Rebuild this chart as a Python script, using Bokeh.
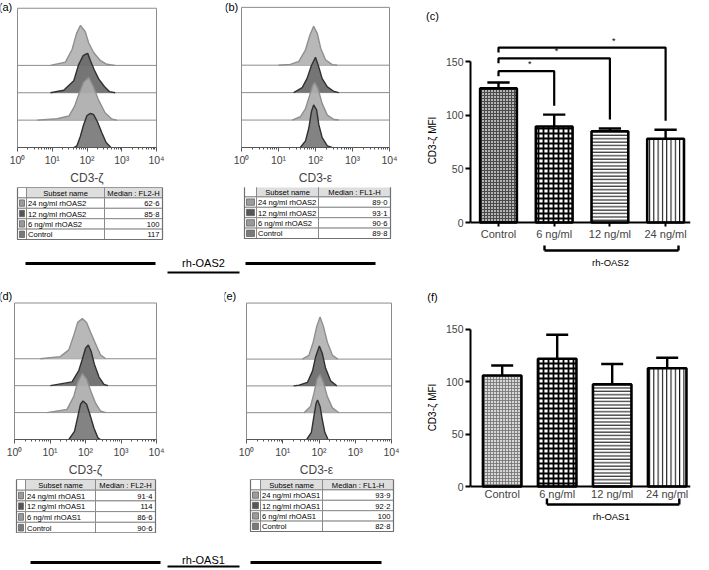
import numpy as np
from bokeh.plotting import figure
from bokeh.layouts import row, column
from bokeh.models import Range1d, FixedTicker, ColumnDataSource
from bokeh.embed import file_html
from bokeh.resources import INLINE
from bokeh.core.properties import value

FONT = "Liberation Sans"

# ---------------- data ----------------
# flow histograms (lanes top -> bottom): 24 ng/ml, 12 ng/ml, 6 ng/ml, Control
# x = log10 fluorescence, h = relative event count (lane units)
a_x = [[0.95, 1.38, 1.57, 1.70, 1.81, 1.95, 2.05, 2.19, 2.38, 2.57, 2.81],
       [0.95, 1.33, 1.62, 1.76, 1.89, 1.95, 2.02, 2.10, 2.21, 2.34, 2.50, 2.65, 2.81],
       [0.57, 1.14, 1.48, 1.64, 1.77, 1.90, 2.05, 2.19, 2.33, 2.52, 2.71, 2.86],
       [1.62, 1.71, 1.81, 1.90, 2.00, 2.10, 2.19, 2.30, 2.43, 2.55, 2.69]]
a_h = [[0, 0.12, 0.58, 1.17, 1.46, 1.23, 0.82, 0.47, 0.18, 0.04, 0],
       [0, 0.09, 0.44, 1.03, 1.36, 1.40, 1.44, 1.17, 0.83, 0.50, 0.23, 0.04, 0],
       [0, 0.05, 0.15, 0.50, 0.96, 1.38, 1.56, 1.20, 0.74, 0.27, 0.04, 0],
       [0, 0.06, 0.41, 0.82, 1.17, 1.25, 1.20, 0.94, 0.53, 0.18, 0]]
b_x = [[1.00, 1.32, 1.55, 1.73, 1.85, 1.95, 2.05, 2.14, 2.27, 2.45, 2.59],
       [1.41, 1.64, 1.77, 1.89, 2.00, 2.09, 2.18, 2.32, 2.50, 2.63],
       [1.37, 1.59, 1.73, 1.84, 1.92, 1.98, 2.07, 2.18, 2.32, 2.50, 2.63],
       [1.59, 1.73, 1.82, 1.89, 1.95, 2.03, 2.09, 2.18, 2.32, 2.45]]
b_h = [[0, 0.03, 0.14, 0.56, 1.10, 1.42, 1.15, 0.62, 0.20, 0.02, 0],
       [0, 0.18, 0.51, 0.99, 1.29, 0.93, 0.51, 0.21, 0.04, 0],
       [0, 0.12, 0.42, 0.89, 1.25, 1.37, 1.13, 0.60, 0.18, 0.02, 0],
       [0, 0.24, 0.71, 1.31, 1.55, 1.37, 0.83, 0.36, 0.06, 0]]
d_x = [[0.73, 1.29, 1.53, 1.67, 1.78, 1.91, 2.03, 2.14, 2.28, 2.42, 2.57],
       [1.01, 1.62, 1.81, 1.91, 2.00, 2.08, 2.16, 2.25, 2.38, 2.52, 2.63],
       [0.92, 1.48, 1.67, 1.78, 1.91, 2.03, 2.14, 2.28, 2.42, 2.57],
       [1.53, 1.69, 1.78, 1.86, 1.93, 2.03, 2.12, 2.24, 2.35, 2.42]]
d_h = [[0, 0.08, 0.33, 0.87, 1.35, 1.49, 1.35, 0.99, 0.57, 0.15, 0],
       [0, 0.14, 0.56, 0.98, 1.39, 1.51, 1.27, 0.80, 0.32, 0.05, 0],
       [0, 0.12, 0.60, 1.13, 1.45, 1.25, 0.83, 0.36, 0.06, 0],
       [0, 0.30, 0.83, 1.31, 1.43, 1.31, 0.95, 0.42, 0.06, 0]]
e_x = [[1.54, 1.72, 1.84, 1.94, 2.03, 2.12, 2.23, 2.37, 2.52],
       [1.30, 1.45, 1.68, 1.82, 1.91, 2.01, 2.09, 2.18, 2.32, 2.49],
       [1.59, 1.77, 1.86, 1.95, 2.03, 2.12, 2.23, 2.37, 2.55],
       [1.66, 1.79, 1.86, 1.92, 1.96, 2.03, 2.09, 2.16, 2.25]]
e_h = [[0, 0.14, 0.63, 1.23, 1.57, 1.23, 0.63, 0.14, 0],
       [0, 0.03, 0.13, 0.55, 1.10, 1.49, 1.22, 0.67, 0.19, 0],
       [0, 0.24, 0.72, 1.27, 1.42, 1.14, 0.60, 0.18, 0],
       [0, 0.27, 0.87, 1.35, 1.47, 1.23, 0.75, 0.27, 0]]

oas2_names = ["24 ng/ml rhOAS2", "12 ng/ml rhOAS2", "6 ng/ml rhOAS2", "Control"]
oas1_names = ["24 ng/ml rhOAS1", "12 ng/ml rhOAS1", "6 ng/ml rhOAS1", "Control"]
a_median = ["62·6", "85·8", "100", "117"]
b_median = ["89·0", "93·1", "90·6", "89·8"]
d_median = ["91·4", "114", "86·6", "90·6"]
e_median = ["93·9", "92·2", "100", "82·8"]

bar_cats = ["Control", "6 ng/ml", "12 ng/ml", "24 ng/ml"]
c_mean = [125, 89.5, 85, 78]
c_sd = [5.5, 11, 2.6, 8.5]
f_mean = [106, 122, 97.5, 113]
f_sd = [9.6, 23, 19.5, 10]
sig_target = [1, 2, 3]          # compared with Control (index 0)
sig_text = ["*", "*", "*"]
mfi_label = "CD3-ζ MFI"

# ---------------- styles ----------------
LANE_FILL = ["#b3b3b3", "#6b6b6b", "#adadad", "#7a7a7a"]
LANE_LINE = ["#8f8f8f", "#303030", "#8f8f8f", "#303030"]
SWATCH = ["#9c9c9c", "#555555", "#9a9a9a", "#7a7a7a"]
SUP = "⁰¹²³⁴"


def bare(ox, oy, w, h, flip=True):
    yr = Range1d(oy + h, oy) if flip else Range1d(-(oy + h), -oy)
    p = figure(width=w, height=h, x_range=Range1d(ox, ox + w), y_range=yr,
               output_backend="svg", toolbar_location=None,
               x_axis_location=None, y_axis_location=None, min_border=0)
    p.grid.visible = False
    p.outline_line_color = None
    return p


def hist_panel(ox, oy, w, h, box, fx, lane_px, xs, hs, xlabel, letter, lpos):
    bl, br, bt, bb = box          # the drawn histogram box (page px)
    fl, fr = fx                   # bokeh frame horizontal extent (page px)
    sx = (br - bl) / 4.0
    sy = lane_px
    p = figure(width=w, height=h,
               x_range=Range1d((fl - bl) / sx, 4 + (fr - br) / sx),
               y_range=Range1d(0, (bb - oy) / sy),
               min_border_left=fl - ox, min_border_right=ox + w - fr,
               min_border_top=0, min_border_bottom=oy + h - bb,
               output_backend="svg", toolbar_location=None, y_axis_location=None)
    p.grid.visible = False
    p.outline_line_color = None
    boxtop = (bb - bt) / sy
    p.quad(left=[0], right=[4], bottom=[0], top=[boxtop], fill_color=None,
           line_color="#8c8c8c", line_width=1)
    for i in range(4):
        base = 3 - i
        p.segment(x0=[0], y0=[base], x1=[4], y1=[base], line_color="#8c8c8c", line_width=1)
        top = [base + v for v in hs[i]]
        p.varea(x=xs[i], y1=[base] * len(xs[i]), y2=top, fill_color=LANE_FILL[i], fill_alpha=0.93)
        p.line(x=xs[i], y=top, line_color=LANE_LINE[i], line_width=1.4)
    ax = p.xaxis[0]
    ax.bounds = (0, 4)
    ax.ticker = FixedTicker(ticks=[0, 1, 2, 3, 4],
                            minor_ticks=[float(d + np.log10(k)) for d in range(4) for k in range(2, 10)])
    ax.major_label_overrides = {i: "10" + SUP[i] for i in range(5)}
    ax.major_label_text_font = FONT
    ax.major_label_text_font_size = "10.5px"
    ax.major_label_standoff = 2
    ax.major_tick_in = 0
    ax.major_tick_out = 4
    ax.minor_tick_in = 0
    ax.minor_tick_out = 2
    ax.axis_line_color = "#555555"
    ax.major_tick_line_color = "#555555"
    ax.minor_tick_line_color = "#555555"
    ax.axis_label = xlabel
    ax.axis_label_text_font = FONT
    ax.axis_label_text_font_style = "normal"
    ax.axis_label_text_font_size = "12px"
    ax.axis_label_standoff = 2
    p.text(x=[(lpos[0] - bl) / sx], y=[(bb - lpos[1]) / sy], text=[letter],
           text_align="center", text_baseline="middle",
           text_font=value(FONT), text_font_size="11px")
    return p


def table_panel(ox, oy, w, h, edges, ty0, rh, med_head, names, medians):
    p = bare(ox, oy, w, h)
    x0, x1, x2, x3 = edges
    p.quad(left=[x0, x1, x2], right=[x1, x2, x3], top=[ty0] * 3, bottom=[ty0 + rh] * 3,
           fill_color=["white", "#dedede", "#dedede"], line_color="#8a8a8a", line_width=1)
    rows_top = [ty0 + rh * (r + 1) for r in range(len(names))]
    rows_bot = [t + rh for t in rows_top]
    for (l, r) in [(x0, x1), (x1, x2), (x2, x3)]:
        p.quad(left=[l] * len(names), right=[r] * len(names), top=rows_top, bottom=rows_bot,
               fill_color="white", line_color="#8a8a8a", line_width=1)
    p.quad(left=[x0 + 2] * len(names), right=[x1 - 2] * len(names),
           top=[t + 2 for t in rows_top], bottom=[b - 2 for b in rows_bot],
           fill_color=SWATCH, line_color="#666666", line_width=0.8)
    p.quad(left=[x0], right=[x3], top=[ty0], bottom=[rows_bot[-1]], fill_color=None,
           line_color="#707070", line_width=1.2)
    tf = dict(text_font=value(FONT), text_font_size="7.6px", text_baseline="middle")
    p.text(x=[(x1 + x2) / 2, (x2 + x3) / 2], y=[ty0 + rh / 2 + 0.5] * 2,
           text=["Subset name", med_head], text_align="center", **tf)
    mids = [t + rh / 2 + 0.5 for t in rows_top]
    p.text(x=[x1 + 1.5] * len(names), y=mids, text=names, text_align="left", **tf)
    p.text(x=[x3 - 3] * len(names), y=mids, text=medians, text_align="right", **tf)
    return p


def sep_panel(ox, oy, w, h, label, line_y, segs, text_xy, ul):
    p = bare(ox, oy, w, h)
    p.segment(x0=[s[0] for s in segs], y0=[line_y] * len(segs), x1=[s[1] for s in segs],
              y1=[line_y] * len(segs), line_color="black", line_width=2.8)
    p.segment(x0=[ul[0]], y0=[ul[2]], x1=[ul[1]], y1=[ul[2]], line_color="black", line_width=1.8)
    p.text(x=[text_xy[0]], y=[text_xy[1]], text=[label], text_align="center", text_baseline="middle",
           text_font=value(FONT), text_font_size="11px")
    return p


def bar_panel(ox, oy, w, h, frame, x0px, xstep, y0px, ystep, means, sds, styles, bw,
              group, gbr, tick_out, standoff, sig=None):
    fl, fr, ft, fb = frame

    def X(px):
        return (px - x0px) / xstep

    def Y(py):
        return (y0px - py) / ystep

    p = figure(width=w, height=h, x_range=Range1d(X(fl), X(fr)), y_range=Range1d(Y(fb), Y(ft)),
               min_border_left=fl - ox, min_border_right=ox + w - fr,
               min_border_top=ft - oy, min_border_bottom=oy + h - fb,
               output_backend="svg", toolbar_location=None)
    p.grid.visible = False
    p.outline_line_color = None
    idx = list(range(len(means)))
    tops = [m + s for m, s in zip(means, sds)]
    src = ColumnDataSource(dict(x=idx, top=means, err=tops,
                                fill=styles["fill"], hatch=styles["hatch"], hcol=styles["hcol"],
                                hscale=styles["hscale"], hweight=styles["hweight"]))
    p.segment(x0="x", y0="top", x1="x", y1="err", source=src, line_color="black", line_width=2.4)
    cw = 0.4
    p.segment(x0=[i - cw / 2 for i in idx], y0=tops, x1=[i + cw / 2 for i in idx], y1=tops,
              line_color="black", line_width=2.4)
    p.vbar(x="x", top="top", bottom=0, width=bw, source=src, fill_color="fill",
           hatch_pattern="hatch", hatch_color="hcol", hatch_scale="hscale", hatch_weight="hweight",
           line_color="black", line_width=2.6)
    ya = p.yaxis[0]
    ya.bounds = (0, 150)
    ya.ticker = FixedTicker(ticks=[0, 50, 100, 150], minor_ticks=[])
    ya.major_tick_in = 0
    ya.major_tick_out = 5
    ya.major_tick_line_width = 2
    ya.axis_line_width = 2
    ya.major_label_text_font = FONT
    ya.major_label_text_font_size = "10.5px"
    ya.major_label_standoff = 2
    xa = p.xaxis[0]
    xa.fixed_location = 0
    xa.ticker = FixedTicker(ticks=idx, minor_ticks=[])
    xa.major_label_overrides = {i: c for i, c in zip(idx, bar_cats)}
    xa.major_tick_in = 0
    xa.major_tick_out = tick_out
    xa.major_tick_line_width = 2
    xa.axis_line_width = 2
    xa.major_label_text_font = FONT
    xa.major_label_text_font_size = "11px"
    xa.major_label_standoff = standoff
    gl, gr, gy, gup, gtx, gty = gbr
    p.segment(x0=[X(gl), X(gl), X(gr)], y0=[Y(gy), Y(gy), Y(gy)], x1=[X(gr), X(gl), X(gr)],
              y1=[Y(gy), Y(gup), Y(gup)], line_color="black", line_width=2.4)
    p.text(x=[X(gtx)], y=[Y(gty)], text=[group], text_align="center", text_baseline="middle",
           text_font=value(FONT), text_font_size="9.5px")
    if sig is not None:
        levels, fracs = sig
        for k, t in enumerate(sig_target):
            lv = levels[k]
            right_end = tops[t] + 9 / ystep
            left_end = lv - 5 / ystep
            p.line(x=[0, 0, t, t], y=[left_end, lv, lv, right_end], line_color="black", line_width=2.2)
            p.text(x=[fracs[k] * t], y=[lv + 2 / ystep], text=[sig_text[k]], text_align="center",
                   text_baseline="bottom", text_font=value(FONT), text_font_size="9px")
    return p


# ---------------- panels ----------------
fa = hist_panel(0, 0, 182, 187, (17, 156, 8, 152), (0, 173), 28.3, a_x, a_h, "CD3-ζ", "(a)", (5, 7))
fb = hist_panel(182, 0, 226, 187, (241, 389, 7, 150), (225, 405), 28.0, b_x, b_h, "CD3-ε", "(b)", (231, 7))
ta = table_panel(0, 187, 182, 56, (17, 26, 104, 162), 187, 10.4, "Median : FL2-H", oas2_names, a_median)
tb = table_panel(182, 187, 226, 56, (244, 256, 318, 390), 186, 10.4, "Median : FL1-H", oas2_names, b_median)
s1 = sep_panel(0, 243, 408, 47, "rh-OAS2", 263, [(25, 155), (245, 375)], (203, 262), (167, 239, 272))
fd = hist_panel(0, 290, 182, 189, (14, 156, 303, 445), (0, 170), 28.0, d_x, d_h, "CD3-ζ", "(d)", (5, 296))
fe = hist_panel(182, 290, 226, 189, (246, 391, 303, 444), (224, 408), 27.7, e_x, e_h, "CD3-ε", "(e)", (229, 296))
td = table_panel(0, 479, 182, 54, (16, 25, 95, 155), 479, 10.7, "Median : FL2-H", oas1_names, d_median)
te = table_panel(182, 479, 226, 54, (250, 260, 322, 393), 479, 10.4, "Median : FL1-H", oas1_names, e_median)
s2 = sep_panel(0, 533, 408, 35, "rh-OAS1", 562, [(30, 160), (250, 381)], (203, 559), (167, 239, 566))

c_styles = dict(fill=["#b4b4b4", "white", "white", "white"],
                hatch=["cross", "cross", "horizontal_line", "vertical_line"],
                hcol=["#4a4a4a", "black", "black", "black"],
                hscale=[3, 5, 3.4, 4.3], hweight=[1, 1.8, 1, 1])
f_styles = dict(fill=["#d6d6d6", "white", "white", "white"],
                hatch=["cross", "cross", "horizontal_line", "vertical_line"],
                hcol=["#707070", "black", "black", "black"],
                hscale=[3, 5, 3.4, 4.3], hweight=[0.8, 1.8, 1, 1])

fc = bar_panel(440, 0, 265, 290, (470, 690, 35, 270), 498, 55.7, 222, 1.073, c_mean, c_sd, c_styles, 0.66,
               "rh-OAS2", (544, 678, 250, 245, 610, 262), 4, 1,
               sig=([141, 153, 163], [0.56, 0.52, 0.69]))
ff = bar_panel(440, 290, 265, 278, (466, 702, 320, 524), 500, 59.0, 486, 1.047, f_mean, f_sd, f_styles, 0.70,
               "rh-OAS1", (548, 690, 504, 498, 617, 516), 0, 1)

# strip with panel letters and rotated y-axis titles for (c) and (f)
strip = bare(408, 0, 32, 568, flip=False)
strip.text(x=[432, 432], y=[-15, -296], text=["(c)", "(f)"], text_align="center", text_baseline="middle",
           text_font=value(FONT), text_font_size="11px")
strip.text(x=[432, 432], y=[-140, -407], text=[mfi_label, mfi_label], angle=np.pi / 2,
           text_align="center", text_baseline="middle", text_font=value(FONT), text_font_size="10px")

left = column(row(fa, fb), row(ta, tb), s1, row(fd, fe), row(td, te), s2)
right = row(strip, column(fc, ff))
root = row(left, right)

open("out.html", "w").write(file_html(root, INLINE))
